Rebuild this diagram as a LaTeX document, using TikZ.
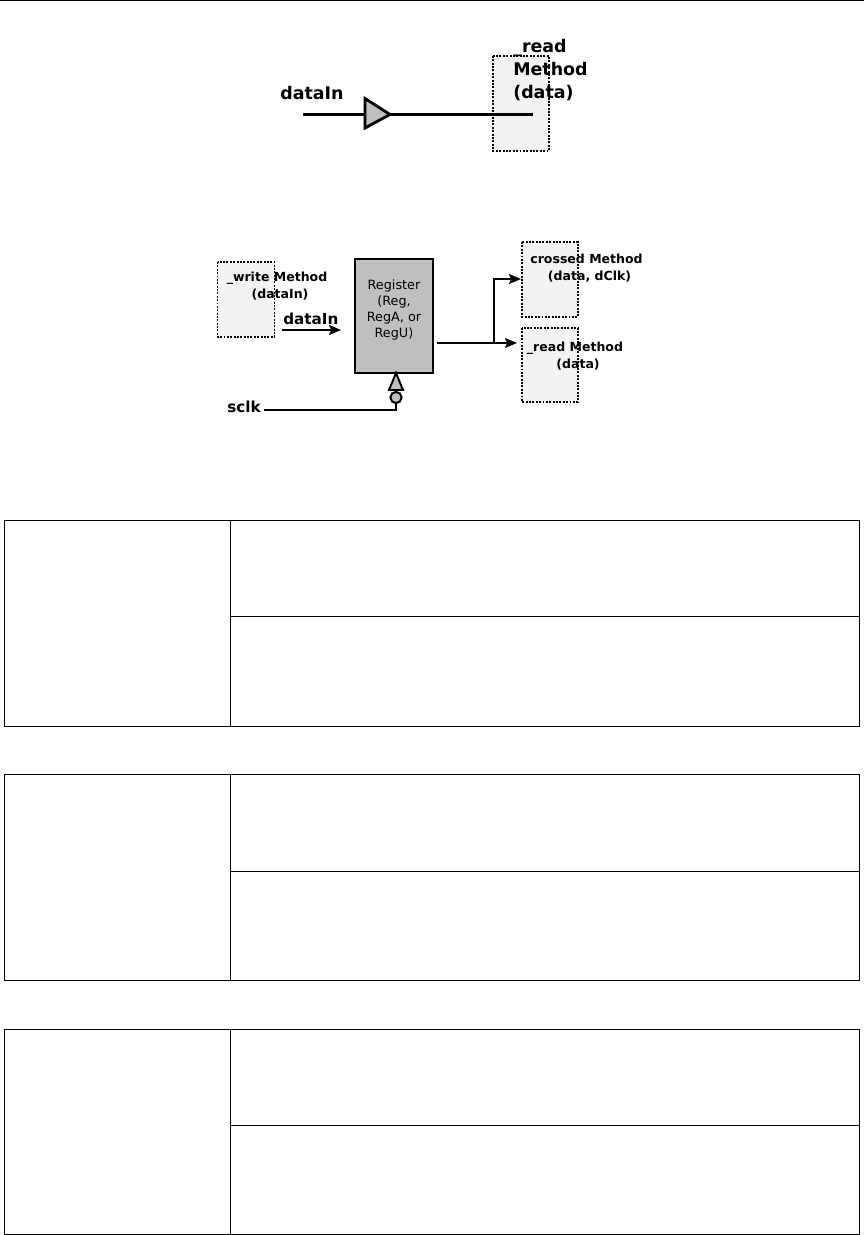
\documentclass[tikz,border=0pt]{standalone}
\usepackage{fontspec}
\setmainfont{DejaVu Sans}
\usepackage{tikz}
\usetikzlibrary{arrows.meta}
\tikzset{
  methodbox/.style={draw=black,fill=black!5,line width=1.4pt,densely dotted},
  wire/.style={line width=1.4pt},
  thickwire/.style={line width=2pt},
  tablerule/.style={line width=0.72pt},
  biglabel/.style={anchor=base west,font=\fontsize{12.4}{16.7}\selectfont\bfseries,inner sep=0pt,align=left},
  midlabel/.style={anchor=base west,font=\fontsize{10.8}{13}\selectfont\bfseries,inner sep=0pt},
  methodlabel/.style={anchor=base,font=\fontsize{8.9}{11.4}\selectfont\bfseries,inner sep=0pt,align=center},
  reglabel/.style={anchor=center,font=\fontsize{9.1}{11.4}\selectfont,inner sep=0pt,align=center},
  wirehead/.style={-{Stealth[length=8.5pt,width=7pt,inset=1.5pt]}}
}

\begin{document}
\begin{tikzpicture}[x=0.025cm,y=-0.025cm]
\useasboundingbox (0,0) rectangle (864,1235);
% page header rule
\draw[line width=1pt] (0,0.5) -- (864,0.5);

% read side of the wire
\draw[methodbox] (493,56) rectangle (549,151);
\node[biglabel] (readlabel) at (513,99) {\_read\\Method\\(data)};
\node[biglabel] (inlabel) at (280,100) {dataIn};
\coordinate (instart) at (303,114.5);
\coordinate (wireend) at (533,114.5);
\draw[thickwire] (instart) -- (wireend);
\draw[thickwire,fill=black!25] (365,98.5) -- (390,114.5) -- (365,128) -- cycle;

% register with its methods
\draw[methodbox] (217.5,262) rectangle (274.5,337);
\node[methodlabel] (writelabel) at (277,298) {\_write Method\\\hspace*{4.3pt}(dataIn)};
\node[midlabel] (inlabelb) at (283,324) {dataIn};
\coordinate (instartb) at (282,330);
\coordinate (inendb) at (341,330);
\draw[wire,wirehead] (instartb) -- (inendb);
\node[draw,line width=1.2pt,fill=black!25,minimum width=78pt*0.7113,minimum height=114pt*0.7113,inner sep=0pt] (register) at (394,316) {};
\node[reglabel] (reglabel) at (394,310) {Register\\(Reg,\\RegA, or\\RegU)};
% clock input
\draw[wire,fill=black!25] (396,373) -- (403,390) -- (389,390) -- cycle;
\node[draw,circle,wire,fill=black!25,minimum size=8pt,inner sep=0pt] (clkdot) at (396,397.5) {};
\node[midlabel] (clklabel) at (227,412) {sclk};
\coordinate (clkstart) at (264,410);
\coordinate (clkcorner) at (396,410);
\draw[wire] (clkstart) -- (clkcorner) -- (clkdot);
% outputs
\draw[methodbox] (522,242) rectangle (578,317);
\draw[methodbox] (522,328) rectangle (578,402);
\node[methodlabel] (crossedlabel) at (586.5,280) {crossed Method\\\hspace*{4.3pt}(data, dClk)};
\node[methodlabel] (outlabel) at (575,368) {\_read Method\\\hspace*{4.3pt}(data)};
\coordinate (outstart) at (437,343);
\coordinate (outend) at (517,343);
\coordinate (branch) at (494,343);
\coordinate (crossedend) at (521,279);
\draw[wire,wirehead] (outstart) -- (outend);
\draw[wire,wirehead] (branch) -- (branch |- crossedend) -- (crossedend);

% empty tables
\foreach \t/\m/\b in {520.3/616.3/726,774.3/871/980.3,1029.3/1125/1234.3}{
\draw[tablerule] (4.5,\t) rectangle (859.5,\b);
\draw[tablerule] (230.5,\t) -- (230.5,\b);
\draw[tablerule] (230.5,\m) -- (859.5,\m);
}
\end{tikzpicture}
\end{document}
